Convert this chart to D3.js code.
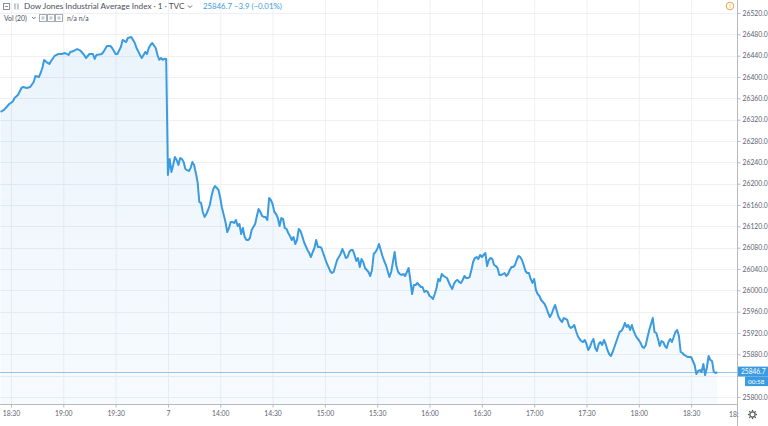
<!DOCTYPE html>
<html><head><meta charset="utf-8">
<script src="https://cdn.jsdelivr.net/npm/d3@7/dist/d3.min.js"></script>
<style>body{margin:0;background:#fff;}svg{display:block;font-family:Lato,"Open Sans",sans-serif;}</style>
</head><body><svg id="c" width="768" height="426"></svg>
<script>
// ---------- data ----------
const title = "Dow Jones Industrial Average Index · 1 · TVC";
const lastPriceText = "25846.7";
const changeText = "−3.9 (−0.01%)";
const volText = "Vol (20)";
const volValuesText = "n/a n/a";
const countdownText = "00:58";
const lastPrice = 25846.7;

const day1Times = ["18:24","18:26","18:28","18:29","18:31","18:32","18:34","18:36","18:37","18:39",
 "18:41","18:43","18:44","18:46","18:47","18:48","18:49","18:51","18:52","18:53",
 "18:55","18:57","18:59","19:01","19:03","19:04","19:06","19:08","19:10","19:12",
 "19:13","19:15","19:17","19:18","19:19","19:22","19:23","19:25","19:27","19:28",
 "19:30","19:31","19:33","19:34","19:36","19:37","19:39","19:40","19:41","19:42",
 "19:44","19:45","19:46","19:47","19:48","19:49","19:50","19:51","19:53","19:54",
 "19:55","19:56","19:57","19:58","19:59"];
const day1Values = [26334.4,26338.2,26345.6,26349.4,26353.7,26360.6,26366.3,26379.4,26381.3,26379.4,
 26381.3,26390.6,26401.9,26400.0,26407.5,26416.9,26431.9,26426.3,26424.4,26430.0,
 26439.4,26443.1,26443.1,26445.0,26441.3,26446.9,26448.8,26452.5,26448.8,26441.3,
 26435.6,26443.1,26443.1,26433.8,26441.3,26443.1,26446.9,26458.1,26458.1,26454.4,
 26443.1,26443.1,26456.3,26469.4,26465.6,26473.1,26475.0,26469.4,26463.8,26454.4,
 26441.3,26435.6,26441.3,26446.9,26443.1,26454.4,26460.0,26463.8,26454.4,26441.3,
 26432.3,26435.6,26432.3,26434.1,26433.8];
const day1Close = "20:00";

// day 2: one value per minute starting 13:30
const day2Start = "13:30";
const day2Values = [
 26216.3,26246.3,26221.9,26235.0,26250.0,26244.4,26235.0,26248.1,26246.3,26240.6, // 13:30
 26227.5,26225.6,26223.8,26229.4,26240.6,26235.0,26220.0,26203.1,26165.6,26163.8, // 13:40
 26146.9,26137.5,26143.1,26150.6,26160.0,26176.9,26190.0,26195.6,26191.9,26188.1, // 13:50
 26173.1,26154.4,26141.3,26128.1,26109.4,26116.9,26128.1,26128.1,26126.3,26131.9, // 14:00
 26120.6,26124.4,26105.6,26116.9,26100.0,26094.4,26094.4,26098.1,26113.1,26119.0, // 14:10
 26124.4,26139.4,26152.5,26146.9,26139.4,26137.5,26137.5,26131.9,26173.1,26169.4, // 14:20
 26161.9,26146.9,26143.1,26135.6,26120.6,26135.6,26133.8,26116.9,26115.0,26107.5, // 14:30
 26101.9,26094.4,26100.0,26086.9,26094.4,26115.0,26111.3,26101.9,26090.6,26083.1, // 14:40
 26075.6,26070.0,26062.5,26071.9,26079.4,26094.4,26081.3,26081.3,26079.4,26070.0, // 14:50
 26060.6,26051.3,26043.8,26036.3,26032.5,26034.4,26045.6,26056.9,26062.5,26068.1, // 15:00
 26077.5,26070.0,26060.6,26062.5,26071.9,26075.6,26075.6,26066.3,26055.0,26060.6, // 15:10
 26043.8,26058.8,26053.1,26041.9,26038.1,26034.4,26026.9,26038.1,26068.1,26071.9, // 15:20
 26077.5,26086.9,26075.6,26064.4,26055.0,26047.5,26036.3,26025.0,26034.4,26053.1, // 15:30
 26071.9,26045.6,26034.4,26030.6,26028.8,26030.6,26026.9,26034.4,26041.9,26019.4, // 15:40
 25993.1,26010.0,26010.0,26013.8,26010.0,26006.3,26006.3,25996.9,25998.8,25996.9, // 15:50
 25989.4,25987.5,25983.8,25993.1,26004.4,26021.3,26017.5,26030.6,26026.9,26025.0, // 16:00
 26023.1,26015.6,26008.1,26002.5,26011.9,26017.5,26019.4,26015.6,26013.8,26019.4, // 16:10
 26026.9,26023.1,26023.1,26025.0,26038.1,26053.1,26060.6,26062.5,26058.8,26066.3, // 16:20
 26062.5,26066.3,26070.0,26045.6,26056.9,26060.6,26058.8,26047.5,26045.6,26041.9, // 16:30
 26028.8,26028.8,26030.6,26032.5,26026.9,26030.6,26038.1,26043.8,26043.8,26047.5, // 16:40
 26056.9,26064.4,26062.5,26056.9,26047.5,26036.3,26032.5,26032.5,26021.3,26013.8, // 16:50
 26021.3,26000.6,25993.1,25989.4,25981.9,25978.1,25974.4,25966.9,25957.5,25950.0, // 17:00
 25955.6,25965.0,25972.5,25961.3,25950.0,25944.4,25940.6,25948.1,25946.3,25944.4, // 17:10
 25933.1,25929.4,25931.3,25935.0,25923.8,25914.4,25908.8,25905.0,25903.1,25906.9, // 17:20
 25899.4,25888.1,25893.8,25903.1,25908.8,25891.9,25886.3,25899.4,25903.1,25897.5, // 17:30
 25906.9,25899.4,25888.1,25880.6,25876.9,25884.4,25893.8,25903.1,25912.5,25921.9, // 17:40
 25923.8,25929.4,25938.8,25931.3,25935.0,25925.6,25935.0,25923.8,25916.3,25910.6, // 17:50
 25906.9,25901.3,25893.8,25891.9,25897.5,25912.5,25925.6,25936.9,25948.1,25921.9, // 18:00
 25920.0,25908.8,25895.6,25905.0,25903.1,25895.6,25891.9,25903.1,25908.8,25903.1, // 18:10
 25912.5,25921.9,25925.6,25914.4,25884.4,25882.5,25878.8,25876.9,25875.0,25875.0, // 18:20
 25875.0,25867.5,25860.0,25843.1,25848.8,25850.6,25846.9,25861.9,25841.3,25854.4, // 18:30
 25876.9,25869.4,25867.5,25846.9,25845.0,25846.7];                                  // 18:40

const xTickDays   = [1,1,1,2,2,2,2,2,2,2,2,2,2,2];
const xTickTimes  = ["18:30","19:00","19:30","13:30","14:00","14:30","15:00","15:30","16:00","16:30","17:00","17:30","18:00","18:30"];
const xTickLabels = ["18:30","19:00","19:30","7","14:00","14:30","15:00","15:30","16:00","16:30","17:00","17:30","18:00","18:30"];
const clippedXLabel = "18:";
const yTicks = [25800,25840,25880,25920,25960,26000,26040,26080,26120,26160,26200,26240,26280,26320,26360,26400,26440,26480,26520];

// ---------- layout ----------
const W = 768, H = 426, plotRight = 737, plotBottom = 404;
const lineColor = "#3a9be0", gridColor = "#eef0f4", axisColor = "#b6b9c1", textColor = "#5e6270";

function toMin(t){ const p = t.split(":").map(Number); return p[0]*60 + p[1]; }
const origin = toMin(day1Times[0]);
const day2Offset = toMin(day1Close) - origin;
function slot(day, t){ return day === 1 ? toMin(t) - origin : day2Offset + toMin(t) - toMin(day2Start); }

const data = day1Times.map((t,i)=>({s: slot(1,t), v: day1Values[i]}))
  .concat(day2Values.map((v,i)=>({s: day2Offset + i, v})));

const x = d3.scaleLinear().domain([-0.3, 422.3]).range([0, plotRight]);
const y = d3.scaleLinear().domain([25800, 26520]).range([397, 13]);
const py = y(lastPrice);

const svg = d3.select("#c");
const defs = svg.append("defs");
defs.append("clipPath").attr("id","plot").append("rect").attr("x",0).attr("y",0).attr("width",plotRight).attr("height",plotBottom);
const grad = defs.append("linearGradient").attr("id","fillG").attr("x1",0).attr("x2",0).attr("y1",0).attr("y2",1);
grad.append("stop").attr("offset","0%").attr("stop-color","#2f8fdf").attr("stop-opacity",0.10);
grad.append("stop").attr("offset","100%").attr("stop-color","#2f8fdf").attr("stop-opacity",0.04);

const xTickSlots = xTickTimes.map((t,i)=>slot(xTickDays[i], t));

// grid
const g = svg.append("g").attr("clip-path","url(#plot)");
g.selectAll("line.v").data(xTickSlots).join("line")
  .attr("x1",d=>x(d)+0.5).attr("x2",d=>x(d)+0.5).attr("y1",0).attr("y2",plotBottom)
  .attr("stroke",gridColor).attr("stroke-width",1);
g.selectAll("line.h").data(yTicks).join("line")
  .attr("x1",0).attr("x2",plotRight).attr("y1",d=>Math.round(y(d))+0.5).attr("y2",d=>Math.round(y(d))+0.5)
  .attr("stroke",gridColor).attr("stroke-width",1);

// area + line
g.append("path").datum(data)
  .attr("d", d3.area().x(d=>x(d.s)).y0(plotBottom).y1(d=>y(d.v)))
  .attr("fill","url(#fillG)");
g.append("line").attr("x1",0).attr("x2",plotRight)
  .attr("y1",Math.round(py)+0.5).attr("y2",Math.round(py)+0.5)
  .attr("stroke","#93c4e6").attr("stroke-width",1);
g.append("path").datum(data)
  .attr("d", d3.line().x(d=>x(d.s)).y(d=>y(d.v)))
  .attr("fill","none").attr("stroke",lineColor).attr("stroke-width",2).attr("stroke-linejoin","round");

// y axis (labels hidden under the last-price tag are not drawn)
const yLabelTicks = yTicks.filter(d => Math.abs(y(d) - py) > 9);
const ya = svg.append("g").attr("transform",`translate(${plotRight+0.5},0)`)
  .call(d3.axisRight(y).tickValues(yLabelTicks).tickFormat(d=>d.toFixed(1)).tickSize(3).tickPadding(2));
ya.select(".domain").remove();
ya.selectAll(".tick line").attr("stroke",axisColor);
ya.selectAll(".tick text").attr("font-size",6.8).attr("fill",textColor).attr("font-family","Lato, sans-serif");
svg.append("line").attr("x1",plotRight+0.5).attr("x2",plotRight+0.5).attr("y1",0).attr("y2",H).attr("stroke",axisColor);

// x axis
const xa = svg.append("g").attr("transform",`translate(0,${plotBottom+0.5})`)
  .call(d3.axisBottom(x).tickValues(xTickSlots).tickFormat((d,i)=>xTickLabels[i]).tickSize(3).tickPadding(4));
xa.select(".domain").remove();
xa.selectAll(".tick line").attr("stroke",axisColor);
xa.selectAll(".tick text").attr("font-size",6.8).attr("fill",textColor).attr("font-family","Lato, sans-serif");
svg.append("line").attr("x1",0).attr("x2",plotRight).attr("y1",plotBottom+0.5).attr("y2",plotBottom+0.5).attr("stroke",axisColor);
svg.append("text").attr("x",plotRight-8).attr("y",417).attr("font-size",6.8).attr("fill",textColor).text(clippedXLabel);

// price labels
svg.append("rect").attr("x",plotRight+1).attr("y",py-5.5).attr("width",W-plotRight-1).attr("height",10).attr("fill",lineColor);
svg.append("text").attr("x",plotRight+4).attr("y",py+2.2).attr("font-size",6.6).attr("fill","#fff").text(lastPriceText);
svg.append("rect").attr("x",745).attr("y",py+4.5).attr("width",W-745).attr("height",9.5).attr("fill",lineColor);
svg.append("text").attr("x",748).attr("y",py+12).attr("font-size",6.4).attr("fill","#fff").text(countdownText);

// gear icon
const gear = svg.append("g").attr("transform","translate(752.5,414.5)");
gear.append("circle").attr("r",2.6).attr("fill","none").attr("stroke","#555").attr("stroke-width",1.2);
gear.selectAll("line").data(d3.range(8)).join("line")
  .attr("x1",d=>Math.cos(d*Math.PI/4)*3).attr("y1",d=>Math.sin(d*Math.PI/4)*3)
  .attr("x2",d=>Math.cos(d*Math.PI/4)*4.6).attr("y2",d=>Math.sin(d*Math.PI/4)*4.6)
  .attr("stroke","#555").attr("stroke-width",1.3);

// info icon
svg.append("circle").attr("cx",730).attr("cy",6).attr("r",3.8).attr("fill","#fff").attr("stroke","#f0a04b").attr("stroke-width",1);
svg.append("text").attr("x",730).attr("y",8.3).attr("text-anchor","middle").attr("font-size",6).attr("font-weight","bold").attr("fill","#f0a04b").text("!");

// header
const hdr = svg.append("g");
hdr.append("rect").attr("x",3.5).attr("y",3.5).attr("width",6).attr("height",6).attr("fill","#fff").attr("stroke","#8a8e98");
hdr.append("line").attr("x1",5).attr("x2",8).attr("y1",6.5).attr("y2",6.5).attr("stroke","#8a8e98");
hdr.append("rect").attr("x",14).attr("y",3.5).attr("width",5).attr("height",6).attr("fill","#c9ccd3");
hdr.append("line").attr("x1",16.5).attr("x2",16.5).attr("y1",3.5).attr("y2",9.5).attr("stroke","#fff").attr("stroke-width",0.8);
hdr.append("text").attr("x",24).attr("y",9.3).attr("font-size",8.2).attr("fill","#4a4f5a").text(title);
hdr.append("path").attr("d","M188,5.5 l2,2 l2,-2").attr("fill","none").attr("stroke","#4a4f5a").attr("stroke-width",0.9);
hdr.append("text").attr("x",203).attr("y",9.3).attr("font-size",7.8).attr("fill",lineColor).text(lastPriceText);
hdr.append("text").attr("x",234).attr("y",9.3).attr("font-size",7.8).attr("fill",lineColor).text(changeText);
hdr.append("text").attr("x",4).attr("y",20.5).attr("font-size",6.8).attr("fill","#4a4f5a").text(volText);
hdr.append("path").attr("d","M32,17 l1.8,1.8 l1.8,-1.8").attr("fill","none").attr("stroke","#4a4f5a").attr("stroke-width",0.8);
[39.5,47.5,55.5].forEach(xx=>{
  hdr.append("rect").attr("x",xx).attr("y",14.5).attr("width",7).attr("height",7).attr("fill","#fff").attr("stroke","#a6aab3");
  hdr.append("rect").attr("x",xx+2).attr("y",16.5).attr("width",3).attr("height",3).attr("fill","#c4c7ce");
});
hdr.append("text").attr("x",67).attr("y",20.5).attr("font-size",6.8).attr("fill","#4a4f5a").text(volValuesText);
</script></body></html>
